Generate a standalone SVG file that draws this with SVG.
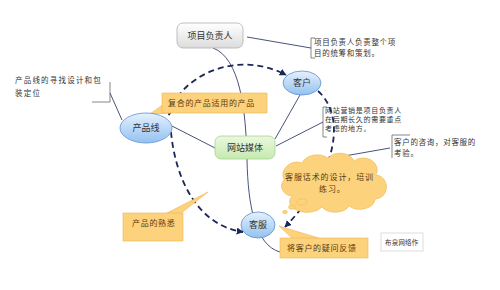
<svg xmlns="http://www.w3.org/2000/svg" width="500" height="290" viewBox="0 0 500 290">
<defs>
<linearGradient id="gBlue" x1="0" y1="0" x2="0" y2="1"><stop offset="0" stop-color="#e6f1fd"/><stop offset="1" stop-color="#93c1f1"/></linearGradient>
<linearGradient id="gGreen" x1="0" y1="0" x2="0" y2="1"><stop offset="0" stop-color="#eaf8df"/><stop offset="1" stop-color="#c6eab0"/></linearGradient>
<linearGradient id="gGray" x1="0" y1="0" x2="0" y2="1"><stop offset="0" stop-color="#ffffff"/><stop offset="1" stop-color="#dcdcdc"/></linearGradient>
<marker id="arr" viewBox="0 0 10 10" refX="9" refY="5" markerWidth="7" markerHeight="7" orient="auto-start-reverse" markerUnits="userSpaceOnUse"><path d="M0,0 L10,5 L0,10 z" fill="#1b2757"/></marker>
</defs>
<style>
text{font-family:"Noto Sans CJK SC","Noto Sans CJK JP",sans-serif;}
.thin{fill:none;stroke:#1b2757;stroke-width:0.8;}
.dash{fill:none;stroke:#1b2757;stroke-width:1.8;stroke-dasharray:6,4;}
.ell{fill:url(#gBlue);stroke:#5e8fcf;stroke-width:0.8;}
.ot{fill:#fdd27c;stroke:#efb650;stroke-width:0.6;}
.lbl{font-size:9px;fill:#333;text-anchor:middle;}
.note{font-size:7.5px;fill:#333;letter-spacing:0.7px;}
.otx{font-size:8px;fill:#5a3a10;letter-spacing:0.7px;}
.br{fill:none;stroke:#555;stroke-width:0.7;}
</style>
<rect width="500" height="290" fill="#ffffff"/>
<g id="connectors">
<path class="thin" d="M247,37 L311,48"/>
<path class="thin" d="M110,93 L122,120"/>
<path class="thin" d="M215,148 L172,126"/>
<path class="thin" d="M275,139 L300,95"/>
<path class="thin" d="M276,146 L323,122"/>
<path class="thin" d="M333,158 L390,148"/>
<path class="thin" d="M213,48 C240,58 246,110 247,160 C248,205 255,245 280,252"/>
<path class="dash" d="M169,115 C178,78 235,48 286,75" marker-start="url(#arr)" marker-end="url(#arr)"/>
<path class="dash" d="M171,132 C175,175 195,225 243,232" marker-end="url(#arr)"/>
<path class="dash" d="M318,91 C345,115 340,170 285,227" marker-end="url(#arr)"/>
</g>
<g id="n-pm">
<rect x="177" y="23" width="66" height="25" rx="6" fill="url(#gGray)" stroke="#b0b0b0" stroke-width="0.8"/>
<text class="lbl" x="210" y="39" fill="#555">项目负责人</text>
</g>
<g id="n-pm-note">
<path class="br" d="M315,38 L311,38 L311,58 L315,58"/>
<text class="note" x="314" y="45">项目负责人负责整个项</text>
<text class="note" x="314" y="56">目的统筹和策划。</text>
</g>
<g id="n-line-note">
<path class="br" d="M92,102 L110,102 L110,82"/>
<text class="note" x="15" y="83" style="letter-spacing:1.2px">产品线的寻找设计和包</text>
<text class="note" x="15" y="96" style="letter-spacing:1.2px">装定位</text>
</g>
<g id="n-fit">
<polygon class="ot" points="164,104 150,114 172,113"/>
<rect class="ot" x="162" y="93" width="105" height="20"/>
<text class="otx" x="168" y="106">复合的产品适用的产品</text>
</g>
<g id="n-line">
<ellipse class="ell" cx="146" cy="128" rx="26" ry="15"/>
<text class="lbl" x="146" y="131">产品线</text>
</g>
<g id="n-web">
<rect x="215" y="136" width="60" height="23" rx="6" fill="url(#gGreen)" stroke="#a5d68a" stroke-width="0.8"/>
<text class="lbl" x="245" y="151">网站媒体</text>
</g>
<g id="n-client">
<ellipse class="ell" cx="302" cy="83" rx="19" ry="12"/>
<text class="lbl" x="302" y="86">客户</text>
</g>
<g id="n-mkt-note">
<path class="br" d="M327,107 L323,107 L323,137 L327,137"/>
<text class="note" x="325" y="113" style="font-size:7px">网站营销是项目负责人</text>
<text class="note" x="325" y="122" style="font-size:7px">在后期长久的需要重点</text>
<text class="note" x="325" y="131" style="font-size:7px">考虑的地方。</text>
</g>
<g id="n-consult-note">
<path class="br" d="M410,135 L392,135 L392,158"/>
<text class="note" x="394" y="145">客户的咨询，对客服的</text>
<text class="note" x="394" y="156">考验。</text>
</g>
<g id="n-cloud">
<path d="M292,196 a12,10 0 0 1 -8,-16 a14,13 0 0 1 18,-17 a16,12 0 0 1 26,-5 a15,12 0 0 1 26,3 a14,12 0 0 1 22,14 a11,12 0 0 1 -1,24 a15,10 0 0 1 -26,7 a15,10 0 0 1 -27,1 a16,10 0 0 1 -30,-11 z" fill="#fdd27c" stroke="#efb650" stroke-width="0.6"/>
<ellipse cx="302" cy="202" rx="5" ry="3" fill="#fdd27c" stroke="#efb650" stroke-width="0.5"/>
<ellipse cx="292" cy="207" rx="3.5" ry="2.3" fill="#fdd27c" stroke="#efb650" stroke-width="0.5"/>
<ellipse cx="285" cy="212" rx="2.3" ry="1.7" fill="#fdd27c" stroke="#efb650" stroke-width="0.5"/>
<text class="otx" x="285" y="180" style="letter-spacing:0.9px">客服话术的设计，培训</text>
<text class="otx" x="319" y="192" style="letter-spacing:0.9px">练习。</text>
</g>
<g id="n-familiar">
<polygon class="ot" points="165,214 180,214 208,192"/>
<rect class="ot" x="123" y="213" width="60" height="28"/>
<text class="otx" x="132" y="226">产品的熟悉</text>
</g>
<g id="n-service">
<ellipse class="ell" cx="258" cy="225" rx="17" ry="13"/>
<text class="lbl" x="258" y="228">客服</text>
</g>
<g id="n-feedback">
<polygon class="ot" points="293,239 322,239 279,226"/>
<rect class="ot" x="280" y="238" width="88" height="20"/>
<text class="otx" x="287" y="251">将客户的疑问反馈</text>
</g>
<g id="n-net">
<rect x="381" y="233" width="42" height="18" fill="#ffffff" stroke="#cfcfcf" stroke-width="0.7"/>
<text x="385" y="245" style="font-size:6.5px;fill:#333;letter-spacing:0.2px">布泉网络作</text>
</g>
</svg>
